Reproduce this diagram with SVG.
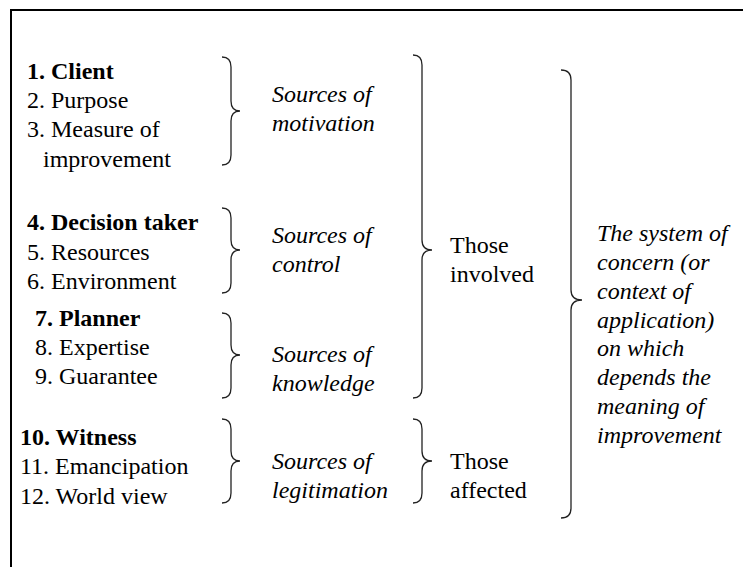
<svg xmlns="http://www.w3.org/2000/svg" width="743" height="567" viewBox="0 0 743 567">
<style>
text{font-family:"Liberation Serif","Times New Roman",serif;font-size:24px;fill:#000}
.b{font-weight:bold}
.i{font-style:italic}
.br{fill:none;stroke:#222;stroke-width:1.3}
.fr{stroke:#000;stroke-width:2;fill:none}
</style>
<rect width="743" height="567" fill="#fff"/>
<g id="frame"><path class="fr" d="M11 567 V10 H743"/></g>
<g id="connectors">
<path class="br" d="M222 57 Q231 57 231 67 V101 Q231 111 240 111 Q231 111 231 121 V155 Q231 165 222 165"/>
<path class="br" d="M222 208 Q231 208 231 218 V240 Q231 250 240 250 Q231 250 231 260 V283 Q231 293 222 293"/>
<path class="br" d="M222 313 Q231 313 231 323 V345 Q231 355 240 355 Q231 355 231 365 V388 Q231 398 222 398"/>
<path class="br" d="M222 419 Q231 419 231 429 V451 Q231 461 240 461 Q231 461 231 471 V493 Q231 503 222 503"/>
<path class="br" d="M413 55 Q422 55 422 65 V240 Q422 250 432 250 Q422 250 422 260 V388 Q422 398 413 398"/>
<path class="br" d="M413 419 Q422 419 422 429 V451 Q422 461 432 461 Q422 461 422 471 V493 Q422 503 413 503"/>
<path class="br" d="M561 70 Q571 70 571 80 V290 Q571 300 582 300 Q571 300 571 310 V508 Q571 518 561 518"/>
</g>
<g id="client">
<text class="b" x="27" y="79">1. Client</text>
<text x="27" y="108">2. Purpose</text>
<text x="27" y="137">3. Measure of</text>
<text x="43" y="167">improvement</text>
</g>
<g id="decision-taker">
<text class="b" x="27" y="230">4. Decision taker</text>
<text x="27" y="260">5. Resources</text>
<text x="27" y="289">6. Environment</text>
</g>
<g id="planner">
<text class="b" x="35" y="326">7. Planner</text>
<text x="35" y="355">8. Expertise</text>
<text x="35" y="384">9. Guarantee</text>
</g>
<g id="witness">
<text class="b" x="20" y="445">10. Witness</text>
<text x="20" y="474">11. Emancipation</text>
<text x="20" y="504">12. World view</text>
</g>
<g id="motivation"><text class="i" x="272" y="102">Sources of</text><text class="i" x="272" y="131">motivation</text></g>
<g id="control"><text class="i" x="272" y="243">Sources of</text><text class="i" x="272" y="272">control</text></g>
<g id="knowledge"><text class="i" x="272" y="362">Sources of</text><text class="i" x="272" y="391">knowledge</text></g>
<g id="legitimation"><text class="i" x="272" y="469">Sources of</text><text class="i" x="272" y="498">legitimation</text></g>
<g id="involved"><text x="450" y="253">Those</text><text x="450" y="282">involved</text></g>
<g id="affected"><text x="450" y="469">Those</text><text x="450" y="498">affected</text></g>
<g id="system">
<text class="i" x="597" y="241">The system of</text>
<text class="i" x="597" y="270">concern (or</text>
<text class="i" x="597" y="299">context of</text>
<text class="i" x="597" y="328">application)</text>
<text class="i" x="597" y="356">on which</text>
<text class="i" x="597" y="385">depends the</text>
<text class="i" x="597" y="414">meaning of</text>
<text class="i" x="597" y="443">improvement</text>
</g>
</svg>
